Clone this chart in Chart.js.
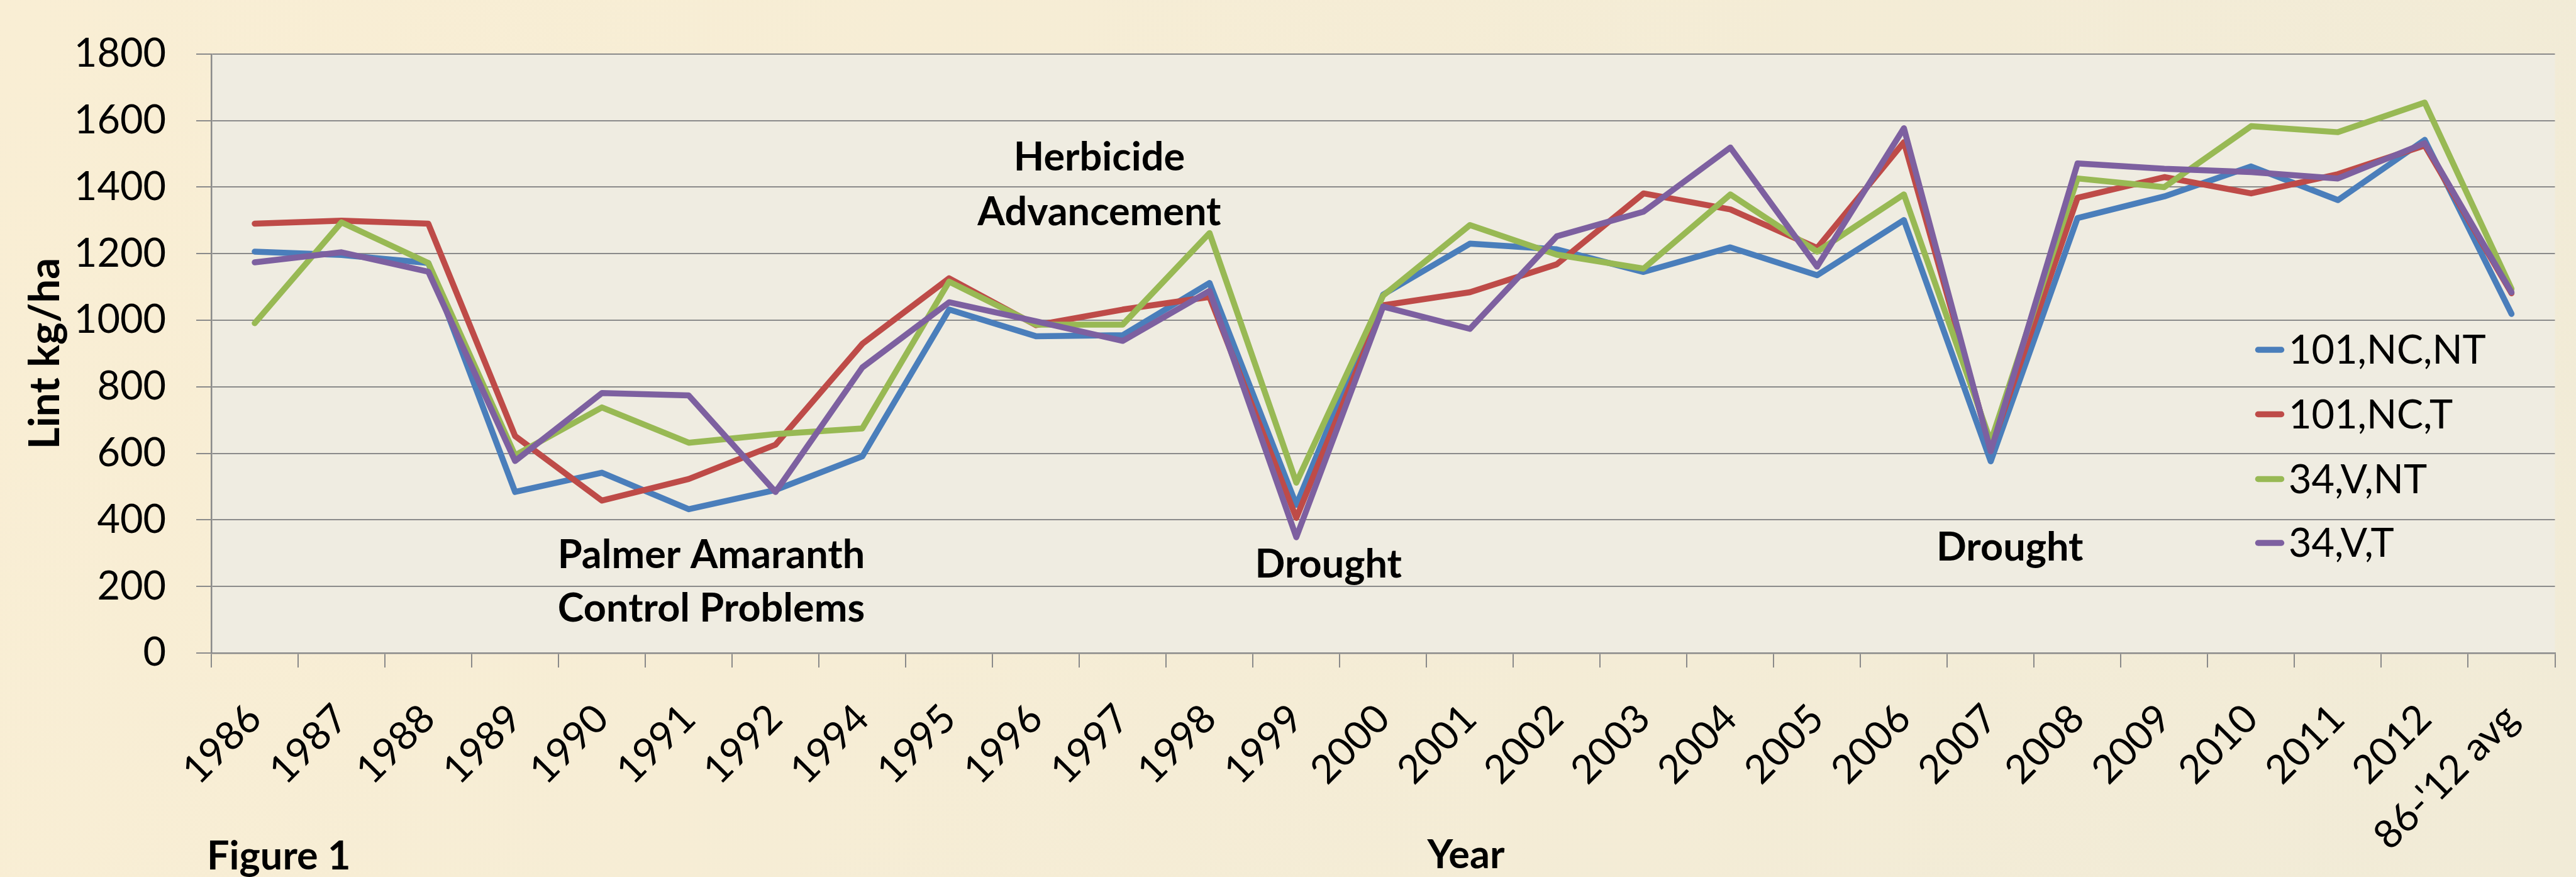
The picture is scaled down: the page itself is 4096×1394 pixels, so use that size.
<!DOCTYPE html>
<html>
<head>
<meta charset="utf-8">
<script src="https://cdn.jsdelivr.net/npm/chart.js@4.4.0/dist/chart.umd.min.js"></script>
<style>
  html, body { margin: 0; padding: 0; background: #F6EDD5; }
  #wrap { width: 4096px; height: 1394px; }
  canvas { display: block; }
</style>
</head>
<body>
<div id="wrap"><canvas id="c" width="4096" height="1394"></canvas></div>
<script>
// ---- data ----
const categories = ["1986","1987","1988","1989","1990","1991","1992","1994","1995","1996","1997","1998","1999","2000","2001","2002","2003","2004","2005","2006","2007","2008","2009","2010","2011","2012","86-'12 avg"];
const seriesNames = ["101,NC,NT", "101,NC,T", "34,V,NT", "34,V,T"];
const s101NCNT = [1206,1196,1172,484,542,432,490,591,1032,952,955,1112,445,1077,1230,1213,1145,1219,1135,1301,576,1307,1372,1462,1361,1542,1019];
const s101NCT  = [1290,1299,1290,652,458,523,626,929,1126,985,1032,1070,406,1045,1084,1168,1381,1333,1217,1535,613,1368,1430,1381,1439,1525,1081];
const s34VNT   = [991,1294,1172,594,738,632,658,675,1116,987,987,1262,512,1074,1286,1197,1155,1378,1206,1378,635,1426,1400,1583,1565,1654,1094];
const s34VT    = [1174,1204,1146,577,781,774,484,858,1054,997,938,1088,348,1041,974,1252,1326,1519,1161,1577,606,1471,1455,1445,1426,1532,1084];
const yTicks = [0,200,400,600,800,1000,1200,1400,1600,1800];
const yTickLabels = ["0","200","400","600","800","1000","1200","1400","1600","1800"];
const yTitle = "Lint kg/ha";
const xTitle = "Year";
const figLabel = "Figure 1";
// annotations: [text, category position (index), y value]
const notes = [
  ["Herbicide", 9.73, 1449],
  ["Advancement", 9.73, 1286],
  ["Palmer Amaranth", 5.26, 255],
  ["Control Problems", 5.26, 95],
  ["Drought", 12.37, 226],
  ["Drought", 20.22, 278]
];

const colors = ["#4A7EBB", "#BE4B48", "#98B954", "#7D60A0"];
const FONT = "Lato";

const bgPlugin = {
  id: 'bg',
  beforeDraw(chart) {
    const ctx = chart.ctx, w = chart.width, h = chart.height, a = chart.chartArea;
    ctx.save();
    const g = ctx.createLinearGradient(0, 0, w, h);
    g.addColorStop(0, '#F9EED4');
    g.addColorStop(1, '#F1EBD7');
    ctx.fillStyle = g;
    ctx.fillRect(0, 0, w, h);
    ctx.fillStyle = '#EFECE1';
    ctx.fillRect(a.left, a.top, a.right - a.left, a.bottom - a.top);
    ctx.restore();
  }
};

const textPlugin = {
  id: 'texts',
  afterDraw(chart) {
    const ctx = chart.ctx, xs = chart.scales.x, ys = chart.scales.y;
    ctx.save();
    ctx.fillStyle = '#000';
    ctx.textBaseline = 'alphabetic';
    ctx.textAlign = 'center';
    ctx.font = 'bold 63px ' + FONT;
    notes.forEach(n => {
      ctx.fillText(n[0], xs.getPixelForValue(n[1]), ys.getPixelForValue(n[2]));
    });
    // x axis title and figure label
    ctx.fillText(xTitle, 2331, 1380);
    ctx.textAlign = 'left';
    ctx.fillText(figLabel, 329, 1382);
    // legend
    const rows = [556, 658.5, 761.5, 863];
    ctx.font = '63px ' + FONT;
    ctx.textBaseline = 'middle';
    chart.data.datasets.forEach((ds, i) => {
      ctx.strokeStyle = ds.borderColor;
      ctx.lineWidth = 9.5;
      ctx.lineCap = 'round';
      ctx.beginPath();
      ctx.moveTo(3590.5, rows[i]);
      ctx.lineTo(3627.5, rows[i]);
      ctx.stroke();
      ctx.fillStyle = '#000';
      ctx.fillText(ds.label, 3639, rows[i] + 2);
    });
    ctx.restore();
  }
};

function build() {
  const series = [s101NCNT, s101NCT, s34VNT, s34VT];
  const datasets = series.map((d, i) => ({
    label: seriesNames[i],
    data: d,
    borderColor: colors[i],
    backgroundColor: colors[i],
    borderWidth: 9.5,
    pointRadius: 0,
    pointHoverRadius: 0,
    tension: 0,
    fill: false,
    borderCapStyle: 'round',
    borderJoinStyle: 'round',
    order: 3 - i
  }));
  new Chart(document.getElementById('c'), {
    type: 'line',
    data: { labels: categories, datasets },
    options: {
      responsive: false,
      animation: false,
      devicePixelRatio: 1,
      layout: { padding: { top: 49.5, right: 33.5, left: 0, bottom: 0 } },
      plugins: { legend: { display: false }, tooltip: { enabled: false } },
      scales: {
        x: {
          type: 'category',
          offset: true,
          grid: { offset: true, drawOnChartArea: false, drawTicks: true, tickLength: 23, color: '#8A8A8A', lineWidth: 2 },
          border: { color: '#8A8A8A', width: 2.5 },
          ticks: { autoSkip: false, maxRotation: 45, minRotation: 45, padding: 44, color: '#000', font: { family: FONT, size: 63 } },
          afterFit(s) { s.height = 356; }
        },
        y: {
          min: 0, max: 1800,
          afterBuildTicks(s) { s.ticks = yTicks.map(v => ({ value: v })); },
          ticks: {
            padding: 48, color: '#000', font: { family: FONT, size: 63 },
            callback(v) { const k = yTicks.indexOf(v); return k >= 0 ? yTickLabels[k] : String(v); }
          },
          grid: { color: '#8A8A8A', lineWidth: 2, tickLength: 24, drawTicks: true },
          border: { color: '#8A8A8A', width: 2.5 },
          title: { display: true, text: yTitle, color: '#000', font: { family: FONT, size: 67, weight: 'bold' }, padding: { top: 32, bottom: 0 } },
          afterFit(s) { s.width = 336; }
        }
      }
    },
    plugins: [bgPlugin, textPlugin]
  });
}

Promise.all([
  document.fonts.load('63px Lato'),
  document.fonts.load('bold 63px Lato')
]).then(build, build);
</script>
</body>
</html>
